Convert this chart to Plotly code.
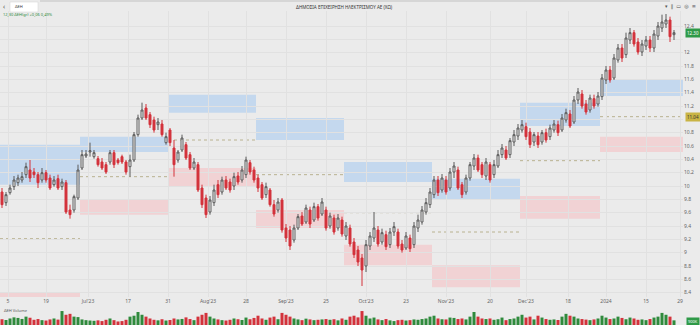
import plotly.graph_objects as go

# ---------------- data ----------------
open_ = [9.91, 9.75, 9.90, 9.99, 10.05, 10.09, 10.17, 10.24, 10.21, 10.17,
         10.09, 10.20, 10.12, 10.02, 10.11, 9.99, 10.05, 9.64, 9.64, 9.82,
         10.27, 10.45, 10.51, 10.44, 10.41, 10.36, 10.32, 10.36, 10.50, 10.39,
         10.44, 10.36, 10.29, 10.39, 10.77, 11.02, 11.17, 11.07, 10.99, 10.92,
         10.93, 10.65, 10.84, 10.57, 10.39, 10.54, 10.62, 10.47, 10.27, 10.32,
         9.97, 9.82, 9.61, 9.75, 10.02, 9.91, 10.09, 10.06, 10.00, 10.15,
         10.09, 10.17, 10.35, 10.24, 10.12, 10.02, 9.87, 9.94, 9.72, 9.64,
         9.79, 9.37, 9.34, 9.19, 9.37, 9.55, 9.46, 9.64, 9.49, 9.69,
         9.58, 9.64, 9.40, 9.52, 9.37, 9.49, 9.25, 9.37, 9.16, 9.04,
         8.92, 8.80, 9.10, 9.22, 9.34, 9.16, 9.27, 9.12, 9.31, 9.31,
         9.13, 9.07, 9.22, 9.12, 9.37, 9.46, 9.61, 9.72, 9.87, 10.09,
         9.94, 10.09, 9.97, 10.21, 10.24, 10.02, 9.91, 10.12, 10.30, 10.42,
         10.32, 10.15, 10.32, 10.17, 10.30, 10.47, 10.54, 10.47, 10.66, 10.75,
         10.84, 10.89, 10.81, 10.66, 10.75, 10.66, 10.80, 10.74, 10.84, 10.92,
         10.84, 10.99, 11.08, 10.96, 11.29, 11.38, 11.23, 11.14, 11.31, 11.23,
         11.34, 11.59, 11.74, 11.62, 11.89, 12.07, 11.97, 12.19, 12.30, 12.16,
         12.01, 12.10, 12.19, 12.07, 12.25, 12.37, 12.43, 12.49, 12.27]
high = [9.97, 9.91, 10.02, 10.15, 10.17, 10.21, 10.35, 10.39, 10.27, 10.21,
        10.27, 10.24, 10.17, 10.15, 10.17, 10.11, 10.09, 9.72, 9.87, 10.32,
        10.54, 10.54, 10.65, 10.54, 10.45, 10.42, 10.36, 10.54, 10.54, 10.42,
        10.47, 10.39, 10.47, 10.81, 11.07, 11.25, 11.23, 11.11, 11.04, 11.02,
        10.99, 10.80, 10.87, 10.69, 10.54, 10.77, 10.66, 10.51, 10.42, 10.36,
        10.02, 9.87, 9.85, 10.02, 10.09, 10.14, 10.15, 10.11, 10.20, 10.21,
        10.30, 10.44, 10.39, 10.29, 10.17, 10.06, 10.05, 9.97, 9.79, 9.82,
        9.82, 9.43, 9.40, 9.42, 9.58, 9.61, 9.72, 9.69, 9.75, 9.73,
        9.82, 9.69, 9.60, 9.57, 9.58, 9.54, 9.46, 9.42, 9.22, 9.10,
        8.98, 9.19, 9.31, 9.61, 9.40, 9.36, 9.33, 9.37, 9.46, 9.36,
        9.19, 9.31, 9.27, 9.46, 9.57, 9.70, 9.82, 9.97, 10.15, 10.15,
        10.18, 10.15, 10.27, 10.36, 10.29, 10.06, 10.17, 10.36, 10.48, 10.47,
        10.36, 10.42, 10.36, 10.39, 10.54, 10.63, 10.60, 10.72, 10.84, 10.93,
        10.99, 10.95, 10.87, 10.81, 10.81, 10.84, 10.86, 10.92, 10.99, 10.98,
        11.08, 11.16, 11.14, 11.35, 11.47, 11.44, 11.29, 11.37, 11.37, 11.41,
        11.68, 11.80, 11.80, 11.98, 12.13, 12.13, 12.30, 12.37, 12.34, 12.22,
        12.19, 12.25, 12.25, 12.34, 12.46, 12.57, 12.58, 12.54, 12.34]
low = [9.67, 9.70, 9.87, 9.94, 10.00, 10.05, 10.12, 10.06, 10.12, 9.97,
       10.05, 10.05, 9.94, 9.99, 9.94, 9.94, 9.58, 9.51, 9.60, 9.79,
       10.24, 10.42, 10.44, 10.41, 10.29, 10.24, 10.18, 10.32, 10.27, 10.32,
       10.33, 10.17, 10.14, 10.36, 10.74, 10.99, 10.99, 10.87, 10.80, 10.84,
       10.74, 10.62, 10.60, 10.14, 10.35, 10.51, 10.39, 10.24, 10.24, 9.91,
       9.67, 9.52, 9.57, 9.70, 9.82, 9.87, 9.94, 9.90, 9.94, 10.02,
       10.05, 10.12, 10.17, 10.05, 9.91, 9.79, 9.82, 9.69, 9.54, 9.60,
       9.30, 9.16, 9.04, 9.15, 9.34, 9.40, 9.43, 9.37, 9.46, 9.48,
       9.55, 9.33, 9.36, 9.27, 9.33, 9.24, 9.19, 9.09, 8.92, 8.80,
       8.50, 8.71, 9.04, 9.16, 9.09, 9.12, 9.04, 9.07, 9.25, 9.06,
       9.00, 9.04, 9.01, 9.07, 9.31, 9.42, 9.57, 9.67, 9.82, 9.85,
       9.90, 9.87, 9.93, 10.12, 9.94, 9.82, 9.87, 10.08, 10.24, 10.21,
       10.12, 10.09, 10.05, 10.12, 10.27, 10.42, 10.39, 10.42, 10.60, 10.69,
       10.80, 10.69, 10.57, 10.60, 10.57, 10.62, 10.65, 10.69, 10.80, 10.75,
       10.81, 10.95, 10.87, 10.93, 11.23, 11.16, 11.07, 11.10, 11.16, 11.19,
       11.29, 11.53, 11.55, 11.59, 11.85, 11.86, 11.92, 12.13, 12.09, 11.97,
       11.95, 12.04, 12.01, 12.01, 12.19, 12.31, 12.37, 12.16, 12.19]
close = [9.72, 9.87, 9.97, 10.09, 10.12, 10.14, 10.29, 10.12, 10.17, 10.05,
         10.20, 10.09, 9.97, 10.09, 9.97, 10.06, 9.61, 9.57, 9.84, 10.24,
         10.47, 10.48, 10.53, 10.50, 10.32, 10.27, 10.21, 10.50, 10.32, 10.35,
         10.36, 10.21, 10.39, 10.77, 11.02, 11.14, 11.02, 10.92, 10.84, 10.96,
         10.77, 10.74, 10.65, 10.32, 10.51, 10.72, 10.42, 10.27, 10.36, 9.94,
         9.72, 9.57, 9.79, 9.94, 9.87, 10.09, 9.97, 9.94, 10.14, 10.06,
         10.24, 10.39, 10.21, 10.09, 9.97, 9.82, 9.99, 9.72, 9.58, 9.76,
         9.34, 9.22, 9.10, 9.37, 9.54, 9.43, 9.67, 9.43, 9.69, 9.52,
         9.76, 9.37, 9.55, 9.31, 9.52, 9.28, 9.40, 9.13, 8.97, 8.86,
         8.74, 9.12, 9.25, 9.37, 9.13, 9.30, 9.09, 9.31, 9.39, 9.10,
         9.04, 9.25, 9.06, 9.40, 9.49, 9.64, 9.75, 9.91, 10.09, 9.90,
         10.12, 9.91, 10.21, 10.30, 9.97, 9.87, 10.12, 10.32, 10.42, 10.24,
         10.17, 10.36, 10.09, 10.32, 10.47, 10.57, 10.42, 10.68, 10.77, 10.87,
         10.92, 10.74, 10.62, 10.77, 10.62, 10.80, 10.69, 10.87, 10.93, 10.80,
         11.02, 11.10, 10.90, 11.29, 11.41, 11.20, 11.11, 11.32, 11.20, 11.35,
         11.62, 11.74, 11.59, 11.92, 12.07, 11.92, 12.22, 12.30, 12.13, 12.01,
         12.13, 12.19, 12.07, 12.28, 12.40, 12.46, 12.49, 12.24, 12.30]
volume = [620, 540, 700, 820, 760, 650, 900, 780, 560, 640,
          520, 480, 600, 700, 580, 1500, 1100, 1200, 900, 850,
          600, 520, 480, 450, 500, 420, 560, 700, 520, 380,
          420, 560, 900, 1000, 1400, 1100, 900, 700, 560, 500,
          620, 480, 540, 700, 600, 650, 820, 640, 520, 900,
          1100, 1300, 900, 700, 600, 520, 480, 560, 700, 620,
          540, 800, 620, 760, 1000, 700, 560, 800, 900, 620,
          1300, 1100, 900, 700, 600, 520, 680, 600, 520, 560,
          600, 640, 560, 620, 500, 700, 560, 900, 1000, 820,
          1500, 1000, 700, 800, 600, 520, 640, 500, 420, 520,
          560, 480, 520, 600, 560, 640, 700, 900, 1000, 700,
          620, 600, 800, 760, 640, 700, 600, 900, 1400, 900,
          700, 640, 700, 560, 620, 800, 520, 640, 700, 900,
          1100, 800, 900, 600, 1000, 800, 640, 560, 600, 540,
          900, 1200, 1000, 900, 700, 640, 580, 520, 600, 700,
          1000, 800, 640, 700, 900, 760, 620, 800, 700, 560,
          600, 520, 640, 800, 900, 1300, 1100, 900, 500]

# monthly zones (bar-index bounds, prices)
zone_start = [-0.5, 19.5, 41.5, 63.5, 85.5, 107.5, 129.5, 149.5]
zone_end = [19.5, 41.5, 63.5, 85.5, 107.5, 129.5, 149.5, 170.25]
res_low = [10.02, 10.51, 11.10, 10.69, 10.06, 9.79, 10.90, 11.35]
res_high = [10.62, 10.74, 11.37, 11.02, 10.36, 10.11, 11.25, 11.59]
sup_low = [8.20, 9.57, 10.00, 9.37, 8.81, 8.48, 9.51, 10.51]
sup_high = [8.41, 9.80, 10.27, 9.64, 9.12, 8.81, 9.85, 10.74]
pivot = [9.21, 10.14, 10.69, 10.17, 9.60, 9.31, 10.38, 11.04]

tick_pos = [1.5, 11, 21.5, 31.5, 41.5, 51.5, 61, 71, 81, 91, 101, 111,
            122, 131, 141.5, 151, 161, 169.5]
tick_text = ["5", "19", "Jul'23", "17", "31", "Aug'23", "28", "Sep'23", "25",
             "Oct'23", "23", "Nov'23", "20", "Dec'23", "18", "2024", "15", "29"]
price_ticks = [8.4, 8.6, 8.8, 9.0, 9.2, 9.4, 9.6, 9.8, 10.0, 10.2, 10.4,
               10.6, 10.8, 11.0, 11.2, 11.4, 11.6, 11.8, 12.0, 12.2, 12.4]
price_text = ["8.4", "8.6", "8.8", "9", "9.2", "9.4", "9.6", "9.8", "10", "10.2", "10.4",
              "10.6", "10.8", "", "11.2", "11.4", "11.6", "11.8", "12", "", "12.4"]

# ---------------- styling ----------------
W, H = 700, 325
BG = "#ebebeb"
GRID = "#e1e1e1"
UP_LINE = "#5a5a5a"
DOWN = "#d3323b"
VOL_UP = "#2f8a3c"
VOL_DOWN = "#d3323b"
XMAX = 170.25

def px(xp):
    return xp / W

def py(yp):
    return 1 - yp / H

x = list(range(len(close)))
vol_colors = [VOL_UP if c >= o else VOL_DOWN for o, c in zip(open_, close)]

fig = go.Figure()
fig.add_trace(go.Candlestick(
    x=x, open=open_, high=high, low=low, close=close,
    increasing=dict(line=dict(color=UP_LINE, width=1), fillcolor="#ffffff"),
    decreasing=dict(line=dict(color=DOWN, width=1), fillcolor=DOWN),
    whiskerwidth=0, showlegend=False, hoverinfo="skip",
    xaxis="x", yaxis="y"))
fig.add_trace(go.Bar(
    x=x, y=volume, marker=dict(color=vol_colors, line=dict(width=0)),
    showlegend=False, hoverinfo="skip", xaxis="x2", yaxis="y2"))

shapes = []
for i in range(len(zone_start)):
    shapes.append(dict(type="rect", xref="x", yref="y", x0=zone_start[i], x1=zone_end[i],
                       y0=res_low[i], y1=res_high[i], fillcolor="#c4d8ee",
                       line=dict(width=0), layer="below"))
    shapes.append(dict(type="rect", xref="x", yref="y", x0=zone_start[i], x1=zone_end[i],
                       y0=sup_low[i], y1=sup_high[i], fillcolor="#f1d2d4",
                       line=dict(width=0), layer="below"))
    shapes.append(dict(type="line", xref="x", yref="y", x0=zone_start[i], x1=zone_end[i],
                       y0=pivot[i], y1=pivot[i], line=dict(color="#aca37a", width=0.8, dash="dot"),
                       layer="below"))

# header decorations
shapes.append(dict(type="rect", xref="paper", yref="paper", x0=px(40), x1=px(670),
                   y0=py(2), y1=py(0), fillcolor="#d6d6d6", line=dict(width=0)))
shapes.append(dict(type="rect", xref="paper", yref="paper", x0=px(10), x1=px(38),
                   y0=py(12), y1=py(2), fillcolor="#ffffff",
                   line=dict(color="#d0d0d0", width=0.5)))

annotations = [
    dict(text="ΔΗΜΟΣΙΑ ΕΠΙΧΕΙΡΗΣΗ ΗΛΕΚΤΡΙΣΜΟΥ ΑΕ (ΧΩ)", xref="paper", yref="paper",
         x=px(344), y=py(7), xanchor="center", yanchor="middle", showarrow=False,
         font=dict(size=4.5, color="#333333", family="Noto Sans")),
    dict(text="‹", xref="paper", yref="paper", x=px(4), y=py(7), xanchor="center",
         yanchor="middle", showarrow=False, font=dict(size=7, color="#555555")),
    dict(text="ΔΕΗ", xref="paper", yref="paper", x=px(13), y=py(7), xanchor="left",
         yanchor="middle", showarrow=False, font=dict(size=4, color="#333333", family="Noto Sans")),
    dict(text="12,30 ΔΕΗ(gr) +0,06 0,49%", xref="paper", yref="paper", x=px(1), y=py(14.5),
         xanchor="left", yanchor="middle", showarrow=False,
         font=dict(size=4, color="#2f8a3c", family="Noto Sans")),
    dict(text="▾  ‖  ▭  ◎  ≡", xref="paper", yref="paper", x=px(698), y=py(6.5),
         xanchor="right", yanchor="middle", showarrow=False,
         font=dict(size=5, color="#555555", family="DejaVu Sans")),
    dict(text="ΔΕΗ Volume", xref="paper", yref="paper", x=px(2), y=py(310),
         xanchor="left", yanchor="middle", showarrow=False,
         font=dict(size=4, color="#555555", family="Noto Sans")),
    dict(text="%.2f" % close[-1], xref="paper", yref="y", x=px(685), y=close[-1],
         xanchor="left", yanchor="middle", showarrow=False, bgcolor="#2f9a48",
         borderpad=1, font=dict(size=4.5, color="#ffffff", family="Noto Sans")),
    dict(text="%.2f" % pivot[-1], xref="paper", yref="y", x=px(685), y=pivot[-1],
         xanchor="left", yanchor="middle", showarrow=False, bgcolor="#c9b445",
         borderpad=1, font=dict(size=4.5, color="#333333", family="Noto Sans")),
    dict(text="900K", xref="paper", yref="paper", x=px(686), y=py(321),
         xanchor="left", yanchor="middle", showarrow=False, bgcolor="#2f9a48",
         borderpad=1, font=dict(size=4, color="#ffffff", family="Noto Sans")),
]

dom_x = [0, 683 / W]
fig.update_layout(
    width=W, height=H, margin=dict(l=0, r=0, t=0, b=0),
    paper_bgcolor=BG, plot_bgcolor=BG,
    font=dict(family="Noto Sans", size=5, color="#666666"),
    shapes=shapes, annotations=annotations, bargap=0.25,
    xaxis=dict(domain=dom_x, range=[-0.5, XMAX], anchor="y",
               tickmode="array", tickvals=tick_pos, ticktext=tick_text,
               showgrid=True, gridcolor=GRID, gridwidth=1, zeroline=False,
               showline=False, ticks="", tickfont=dict(size=5, color="#666666"),
               rangeslider=dict(visible=False), fixedrange=True),
    yaxis=dict(domain=[py(297), py(11)], range=[8.335, 12.625], side="right",
               anchor="x", tickmode="array", tickvals=price_ticks, ticktext=price_text,
               showgrid=True, gridcolor=GRID, zeroline=False, showline=False,
               ticks="", tickfont=dict(size=5, color="#666666")),
    xaxis2=dict(domain=dom_x, range=[-0.5, XMAX], anchor="y2", matches="x",
                showticklabels=False, showgrid=False, zeroline=False, ticks=""),
    yaxis2=dict(domain=[0, py(305)], range=[0, 2150], anchor="x2", side="right",
                showticklabels=False, showgrid=False, zeroline=False, ticks=""),
)

fig.write_html("out.html")
